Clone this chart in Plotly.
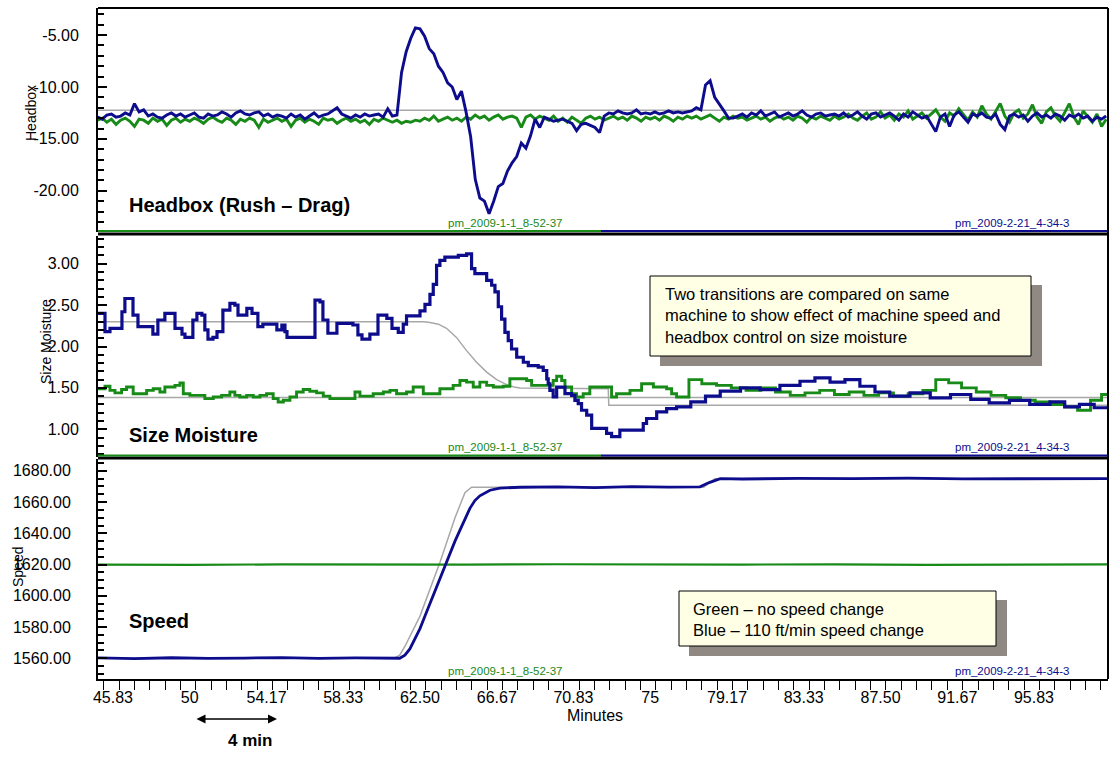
import numpy as np
import plotly.graph_objects as go

# ---------------- data ----------------
# Headbox (rush - drag), one sample every 15 s starting at 45.0 min
hb_start, hb_step = 45.0, 0.25
hb_blue = [
    -12.9, -13.1, -12.7, -12.6, -12.9, -12.8, -12.5, -12.7, -11.6, -12.4, -12.2, -12.8, -12.6, -12.9, -13.0, -12.7, -12.5, -12.8, -12.6, -12.9,
    -12.7, -12.5, -12.9, -13.0, -12.6, -12.8, -12.7, -12.4, -12.6, -12.9, -12.5, -12.3, -12.6, -12.7, -12.5, -12.4, -12.8, -12.6, -12.9, -12.7,
    -12.8, -13.0, -12.6, -12.9, -12.7, -13.1, -12.8, -12.5, -12.9, -12.7, -12.6, -12.3, -12.0, -12.6, -12.8, -13.0, -12.7, -12.9, -12.6, -12.8,
    -12.7, -12.6, -12.9, -12.1, -12.8, -12.7, -8.6, -6.6, -5.3, -4.3, -4.4, -5.1, -6.3, -6.8, -8.0, -8.6, -9.6, -10.0, -11.2, -10.4,
    -12.4, -14.8, -18.9, -20.7, -21.0, -22.2, -21.0, -19.6, -19.3, -18.1, -17.3, -16.7, -15.4, -15.9, -14.7, -13.1, -13.9, -12.9, -13.1, -13.3,
    -13.2, -13.1, -13.3, -13.5, -14.2, -13.6, -13.5, -13.7, -13.9, -14.4, -12.8, -12.5, -12.6, -12.3, -12.5, -12.6, -12.5, -12.2, -12.6, -12.5,
    -12.6, -12.4, -12.6, -12.5, -12.3, -12.5, -12.4, -12.5, -12.4, -12.3, -12.0, -12.2, -9.8, -9.4, -11.0, -11.6, -12.3, -13.0, -13.0, -12.8,
    -12.6, -12.9, -12.5, -12.7, -12.3, -12.8, -12.6, -12.4, -12.9, -12.7, -12.5, -12.8, -12.6, -12.3, -12.7, -12.9, -12.6, -12.5, -12.8, -12.7,
    -12.6, -12.8, -12.5, -12.9, -12.7, -12.4, -12.8, -13.1, -12.6, -12.5, -12.9, -12.7, -12.5, -12.8, -13.2, -12.6, -12.9, -12.4, -12.7, -13.0,
    -12.8, -13.5, -14.3, -12.9, -12.6, -13.8, -12.7, -12.4, -12.9, -13.4, -12.6, -12.8, -12.5, -12.9, -13.0, -12.6, -13.6, -14.1, -12.8, -12.6,
    -12.9, -12.7, -13.3, -12.8, -12.5, -12.9, -12.7, -13.0, -12.6, -12.8, -13.2, -12.7, -12.9, -12.6, -13.0, -12.8, -13.3, -12.9, -13.1, -12.8,
]
hb_green = [
    -13.2, -13.0, -13.4, -13.1, -13.6, -13.2, -13.0, -13.3, -13.8, -13.1, -13.2, -13.5, -13.0, -13.3, -13.1, -13.7, -13.2, -13.0, -13.4, -13.1,
    -13.3, -13.0, -13.2, -13.5, -13.1, -12.9, -13.2, -13.4, -13.0, -13.2, -13.6, -13.1, -13.3, -13.0, -13.2, -13.9, -13.1, -13.4, -13.2, -13.0,
    -13.3, -13.1, -13.8, -13.2, -13.0, -13.4, -13.1, -13.3, -13.6, -13.0, -13.2, -13.1, -13.5, -13.2, -13.0, -13.3, -13.1, -13.4, -13.2, -13.6,
    -13.1, -13.3, -13.0, -13.2, -13.4, -13.2, -13.5, -13.3, -13.4, -13.2, -13.3, -13.0, -13.2, -12.8, -13.3, -13.1, -12.9, -13.2, -13.0, -13.3,
    -12.9, -13.1, -12.7, -13.0, -12.8, -13.2, -12.9, -12.7, -13.1, -12.9, -12.8, -13.0, -13.9, -12.9, -12.7, -13.1, -12.8, -13.0, -13.2, -12.8,
    -13.3, -13.0, -13.4, -12.9, -13.2, -13.5, -13.0, -12.8, -13.1, -12.9, -13.2, -13.0, -12.8, -13.1, -12.9, -13.2, -12.8, -13.0, -13.3, -12.9,
    -13.1, -12.9, -13.2, -12.8, -13.0, -13.3, -12.9, -13.1, -12.8, -13.0, -12.8, -13.1, -12.9, -12.7, -13.0, -13.3, -12.9, -13.1, -12.8, -13.0,
    -12.9, -13.2, -13.0, -12.8, -13.1, -12.9, -13.3, -13.0, -12.8, -13.1, -12.9, -13.2, -12.8, -13.0, -13.4, -12.9, -13.1, -12.8, -13.0, -13.2,
    -12.8, -13.1, -12.9, -12.6, -13.0, -13.2, -12.8, -12.5, -13.1, -12.9, -12.4, -13.0, -12.7, -13.2, -12.6, -12.9, -12.3, -13.1, -12.8, -12.5,
    -13.0, -12.6, -12.2, -12.9, -13.3, -12.5, -12.8, -12.1, -12.7, -13.2, -12.4, -12.9, -11.8, -12.6, -13.1, -12.3, -11.6, -12.8, -13.4, -12.5,
    -12.2, -13.0, -12.6, -11.7, -12.9, -13.5, -12.4, -12.0, -12.8, -13.3, -12.5, -11.6, -12.9, -13.6, -12.3, -12.8, -13.4, -12.6, -13.8, -13.1,
]
hb_setpoint = -12.25

# Size moisture (stepped logger values)
sm_blue_t = [
    45.0, 45.4, 45.67, 46.32, 46.48, 46.92, 47.19, 48.0, 48.27, 48.65, 49.2, 49.58, 49.74, 50.17, 50.39, 50.66,
    50.82, 50.99, 51.26, 51.48, 51.8, 52.18, 52.45, 52.62, 53.1, 53.38, 53.7, 53.97, 54.73, 55.0, 55.17, 55.28,
    56.8, 57.07, 57.23, 57.5, 57.99, 58.86, 59.13, 59.35, 59.78, 60.22, 60.7, 60.98, 61.32, 61.59, 61.77, 62.5,
    62.77, 63.04, 63.22, 63.4, 63.58, 63.85, 64.58, 65.03, 65.3, 65.48, 66.12, 66.39, 66.57, 66.75, 66.93, 67.11,
    67.29, 67.47, 67.75, 68.11, 68.38, 68.92, 69.19, 69.38, 69.46, 69.55, 69.73, 69.92, 70.37, 70.73, 70.91, 71.09,
    71.27, 71.55, 71.82, 72.63, 72.9, 73.35, 74.62, 74.8, 75.35, 75.89, 76.43, 77.2, 78.0, 78.8, 79.9, 80.96,
    82.04, 83.13, 83.94, 84.76, 85.57, 86.38, 87.2, 88.0, 89.1, 90.2, 91.3, 92.4, 93.4, 94.5, 95.6, 96.7,
    97.5, 98.3, 99.1, 99.85,
]
sm_blue = [
    2.40, 2.18, 2.22, 2.42, 2.58, 2.38, 2.24, 2.15, 2.32, 2.40, 2.22, 2.15, 2.11, 2.32, 2.40, 2.38,
    2.20, 2.09, 2.11, 2.18, 2.44, 2.52, 2.50, 2.38, 2.46, 2.40, 2.24, 2.27, 2.20, 2.26, 2.18, 2.11,
    2.56, 2.54, 2.32, 2.16, 2.28, 2.26, 2.14, 2.09, 2.15, 2.38, 2.34, 2.22, 2.17, 2.27, 2.37, 2.43,
    2.51, 2.63, 2.75, 2.98, 3.04, 3.08, 3.10, 3.12, 2.94, 2.88, 2.80, 2.74, 2.66, 2.48, 2.33, 2.17,
    2.07, 1.97, 1.87, 1.81, 1.77, 1.75, 1.71, 1.61, 1.55, 1.47, 1.39, 1.51, 1.43, 1.41, 1.35, 1.31,
    1.23, 1.17, 1.01, 0.95, 0.91, 0.99, 1.07, 1.13, 1.21, 1.25, 1.27, 1.33, 1.40, 1.46, 1.50, 1.48,
    1.53, 1.58, 1.62, 1.57, 1.60, 1.52, 1.45, 1.40, 1.44, 1.38, 1.42, 1.36, 1.32, 1.35, 1.30, 1.33,
    1.27, 1.30, 1.26, 1.28,
]
sm_green_t = [
    45.0, 45.4, 45.67, 45.94, 46.3, 46.57, 46.93, 47.66, 48.02, 48.38,
    48.65, 49.2, 49.47, 49.65, 50.01, 50.82, 51.28, 51.73, 52.18, 52.45,
    52.72, 53.09, 53.45, 53.81, 54.17, 54.53, 54.8, 55.08, 55.44, 55.8,
    56.16, 56.52, 56.89, 57.25, 57.61, 58.97, 59.24, 59.96, 60.51, 60.87,
    61.23, 61.77, 62.13, 62.68, 63.58, 64.3, 64.67, 65.03, 65.39, 65.75,
    66.12, 66.48, 67.02, 67.38, 68.29, 68.56, 69.19, 69.73, 69.92, 70.19,
    70.37, 70.73, 71.0, 71.36, 71.72, 72.9, 73.17, 73.9, 74.53, 75.17,
    75.89, 76.16, 76.43, 77.1, 77.8, 78.6, 79.4, 80.2, 81.0, 81.8,
    82.6, 83.4, 84.2, 85.0, 85.8, 86.6, 87.4, 88.2, 89.0, 89.8,
    90.5, 91.2, 91.9, 92.7, 93.5, 94.3, 95.1, 95.9, 96.7, 97.5,
    98.2, 98.9, 99.5, 99.85,
]
sm_green = [
    1.49, 1.52, 1.47, 1.44, 1.48, 1.51, 1.43, 1.47, 1.49, 1.45,
    1.51, 1.53, 1.56, 1.43, 1.41, 1.37, 1.39, 1.41, 1.45, 1.41,
    1.39, 1.41, 1.39, 1.41, 1.43, 1.37, 1.33, 1.35, 1.39, 1.45,
    1.48, 1.46, 1.44, 1.40, 1.37, 1.45, 1.40, 1.43, 1.45, 1.47,
    1.43, 1.45, 1.51, 1.43, 1.49, 1.53, 1.59, 1.57, 1.51, 1.57,
    1.53, 1.51, 1.52, 1.61, 1.59, 1.53, 1.53, 1.59, 1.64, 1.59,
    1.51, 1.43, 1.39, 1.43, 1.51, 1.39, 1.43, 1.47, 1.55, 1.51,
    1.49, 1.43, 1.39, 1.60, 1.55, 1.53, 1.50, 1.47, 1.50, 1.45,
    1.41, 1.44, 1.47, 1.42, 1.45, 1.41, 1.44, 1.40, 1.43, 1.47,
    1.60, 1.56, 1.50, 1.45, 1.41, 1.38, 1.35, 1.33, 1.30, 1.27,
    1.23, 1.35, 1.42, 1.44,
]
sm_target_green = 1.385
sm_target_blue_t = [45.0, 62.7, 63.04, 63.5, 63.94, 64.48, 65.03, 65.57, 66.12, 66.66, 67.2, 67.6, 67.93, 72.72, 72.75, 99.85]
sm_target_blue = [2.30, 2.30, 2.29, 2.27, 2.22, 2.11, 1.95, 1.81, 1.69, 1.60, 1.54, 1.51, 1.50, 1.49, 1.29, 1.29]

# Machine speed
sp_green_t = [45.0, 50.0, 55.0, 60.0, 65.0, 70.0, 75.0, 80.0, 85.0, 90.0, 95.0, 99.85]
sp_green = [1620.0, 1619.8, 1620.1, 1619.9, 1620.0, 1620.2, 1619.9, 1620.0, 1620.1, 1619.8, 1620.0, 1620.1]
sp_blue_t = [
    45.0, 47.0, 49.0, 51.0, 53.0, 55.0, 57.0, 59.0, 61.4, 61.68, 61.95, 62.23, 62.5, 62.77, 63.04,
    63.31, 63.58, 63.85, 64.12, 64.4, 64.67, 64.94, 65.21, 65.48, 65.75, 66.3, 66.84, 67.93, 70.0,
    72.0, 74.0, 76.0, 77.7, 78.2, 78.8, 80.0, 83.0, 86.0, 89.0, 92.0, 95.0, 98.0, 99.85,
]
sp_blue = [
    1560.2, 1559.8, 1560.3, 1559.9, 1560.1, 1560.4, 1559.9, 1560.2, 1560.0, 1562, 1566, 1573, 1579, 1587, 1595,
    1603, 1611, 1619, 1627, 1635, 1642, 1649, 1656, 1661, 1664, 1667.6, 1669, 1669.5, 1669.8,
    1669.3, 1669.9, 1669.6, 1669.8, 1672.5, 1675, 1674.8, 1675.2, 1675.0, 1675.3, 1674.9, 1675.1, 1675.2, 1675.0,
]
sp_target_t = [45.0, 61.1, 61.4, 61.7, 62.5, 63.6, 64.4, 64.94, 65.3, 77.9, 78.5, 99.85]
sp_target = [1560, 1560, 1562, 1568, 1587, 1622, 1650, 1666, 1669.5, 1669.5, 1675, 1675]

x_tick_vals = [45.83, 50, 54.17, 58.33, 62.5, 66.67, 70.83, 75, 79.17, 83.33, 87.5, 91.67, 95.83]
x_tick_text = ["45.83", "50", "54.17", "58.33", "62.50", "66.67", "70.83", "75", "79.17", "83.33", "87.50", "91.67", "95.83"]
hb_ticks = [-5, -10, -15, -20]
sm_ticks = [1.0, 1.5, 2.0, 2.5, 3.0]
sp_ticks = [1560, 1580, 1600, 1620, 1640, 1660, 1680]

run_green = "pm_2009-1-1_8-52-37"
run_blue = "pm_2009-2-21_4-34-3"

# ---------------- style ----------------
BLUE = "#0c0c8c"
GREEN = "#178a17"
GRAY = "#a8a8a8"
W, H = 1111, 759
L, R, T, B = 98, 3, 8, 80
TICK_FONT = "Liberation Sans, Arial, sans-serif"
TEXT_FONT = "Liberation Sans, Arial, sans-serif"


def fx(p):
    """pixel column -> paper x"""
    return (p - L) / (W - L - R)


def fy(p):
    """pixel row -> paper y"""
    return (H - B - p) / (H - T - B)


hb_t = np.round(hb_start + hb_step * np.arange(len(hb_blue)), 3)

fig = go.Figure()

# headbox panel
fig.add_trace(go.Scatter(x=[hb_t[0], hb_t[-1]], y=[hb_setpoint, hb_setpoint], mode="lines",
                         line=dict(color=GRAY, width=1.5), yaxis="y"))
fig.add_trace(go.Scatter(x=hb_t, y=hb_green, mode="lines", line=dict(color=GREEN, width=2.9), yaxis="y"))
fig.add_trace(go.Scatter(x=hb_t, y=hb_blue, mode="lines", line=dict(color=BLUE, width=2.9), yaxis="y"))

# size moisture panel
fig.add_trace(go.Scatter(x=[45.0, 99.85], y=[sm_target_green, sm_target_green], mode="lines",
                         line=dict(color=GRAY, width=1.5), yaxis="y2"))
fig.add_trace(go.Scatter(x=sm_target_blue_t, y=sm_target_blue, mode="lines", line=dict(color=GRAY, width=1.5),
                         yaxis="y2"))
fig.add_trace(go.Scatter(x=sm_green_t, y=sm_green, mode="lines", line=dict(color=GREEN, width=2.9, shape="hv"),
                         yaxis="y2"))
fig.add_trace(go.Scatter(x=sm_blue_t, y=sm_blue, mode="lines", line=dict(color=BLUE, width=3.2, shape="hv"),
                         yaxis="y2"))

# speed panel
fig.add_trace(go.Scatter(x=sp_target_t, y=sp_target, mode="lines", line=dict(color=GRAY, width=1.5), yaxis="y3"))
fig.add_trace(go.Scatter(x=sp_green_t, y=sp_green, mode="lines", line=dict(color=GREEN, width=2.2), yaxis="y3"))
fig.add_trace(go.Scatter(x=sp_blue_t, y=sp_blue, mode="lines", line=dict(color=BLUE, width=2.8), yaxis="y3"))

p1 = [fy(232), 1.0]
p2 = [fy(457), fy(236)]
p3 = [0.0, fy(459)]

yax_common = dict(showgrid=False, zeroline=False, showline=True, linecolor="black", linewidth=2,
                  ticks="inside", ticklen=9, tickwidth=1.5, tickcolor="black",
                  tickfont=dict(family=TICK_FONT, size=16, color="black"), anchor="x")

fig.update_layout(
    width=W, height=H,
    margin=dict(l=L, r=R, t=T, b=B),
    paper_bgcolor="white", plot_bgcolor="white",
    showlegend=False,
    xaxis=dict(range=[45.02, 99.85], showgrid=False, zeroline=False, showline=True, linecolor="black",
               linewidth=2, anchor="y3", tickmode="array", tickvals=x_tick_vals, ticktext=x_tick_text,
               ticks="", tickfont=dict(family=TICK_FONT, size=16, color="black"),
               minor=dict(ticks="outside", tick0=45.34, dtick=0.8325, ticklen=9, tickwidth=1.2,
                          tickcolor="black"),
               ticklabelstandoff=3),
    yaxis=dict(domain=p1, range=[-23.97, -2.39], tickmode="array", tickvals=hb_ticks,
               ticktext=[f"{v:.2f}" for v in hb_ticks],
               minor=dict(ticks="inside", dtick=1, tick0=0, ticklen=6, tickcolor="black"),
               ticklabelstandoff=14, **yax_common),
    yaxis2=dict(domain=p2, range=[0.665, 3.335], tickmode="array", tickvals=sm_ticks,
                ticktext=[f"{v:.2f}" for v in sm_ticks],
                minor=dict(ticks="inside", dtick=0.1, tick0=0, ticklen=6, tickcolor="black"),
                ticklabelstandoff=14, **yax_common),
    yaxis3=dict(domain=p3, range=[1546.7, 1687.6], tickmode="array", tickvals=sp_ticks,
                ticktext=[f"{v:.2f}" for v in sp_ticks],
                minor=dict(ticks="inside", dtick=5, tick0=0, ticklen=6, tickcolor="black"),
                ticklabelstandoff=22, **yax_common),
)

shapes = []
# outer frame: top and right edges
shapes.append(dict(type="line", xref="paper", yref="paper", x0=0, x1=1, y0=1, y1=1,
                   line=dict(color="black", width=2)))
shapes.append(dict(type="line", xref="paper", yref="paper", x0=1, x1=1, y0=0, y1=1,
                   line=dict(color="black", width=2)))
# panel separators with the run-colour strip
split = fx(601)
for strip_y, bar_y in [(231, 234), (455.5, 458)]:
    shapes.append(dict(type="line", xref="paper", yref="paper", x0=0, x1=1, y0=fy(bar_y), y1=fy(bar_y),
                       line=dict(color="black", width=3)))
    shapes.append(dict(type="line", xref="paper", yref="paper", x0=0, x1=split, y0=fy(strip_y), y1=fy(strip_y),
                       line=dict(color=GREEN, width=2)))
    shapes.append(dict(type="line", xref="paper", yref="paper", x0=split, x1=1, y0=fy(strip_y), y1=fy(strip_y),
                       line=dict(color=BLUE, width=2)))
# note boxes with drop shadows
for (bx0, by0, bx1, by1) in [(650, 276, 1031, 356), (679, 591, 996, 646)]:
    shapes.append(dict(type="rect", xref="paper", yref="paper", x0=fx(bx0 + 10), x1=fx(bx1 + 11),
                       y0=fy(by1 + 10), y1=fy(by0 + 9), fillcolor="#8f8883", line=dict(width=0), layer="above"))
    shapes.append(dict(type="rect", xref="paper", yref="paper", x0=fx(bx0), x1=fx(bx1),
                       y0=fy(by1), y1=fy(by0), fillcolor="#ffffe6", line=dict(color="black", width=1),
                       layer="above"))
fig.update_layout(shapes=shapes)

ann = []
# panel titles
for text, y in [("Headbox (Rush – Drag)", 205), ("Size Moisture", 435), ("Speed", 621)]:
    ann.append(dict(text=f"<b>{text}</b>", x=fx(127), y=fy(y), xref="paper", yref="paper", xanchor="left",
                    yanchor="middle", showarrow=False, font=dict(family=TEXT_FONT, size=20, color="black")))
# run identifiers
for y in [223, 447, 671]:
    ann.append(dict(text=run_green, x=fx(505), y=fy(y), xref="paper", yref="paper", xanchor="center",
                    yanchor="middle", showarrow=False, font=dict(family=TICK_FONT, size=11.5, color=GREEN)))
    ann.append(dict(text=run_blue, x=fx(1012), y=fy(y), xref="paper", yref="paper", xanchor="center",
                    yanchor="middle", showarrow=False, font=dict(family=TICK_FONT, size=11.5, color=BLUE)))
# axis titles
for text, x, y in [("Headbox", 31, 113), ("Size Moisture", 46, 342), ("Speed", 18, 567)]:
    ann.append(dict(text=text, x=fx(x), y=fy(y), xref="paper", yref="paper", xanchor="center", yanchor="middle",
                    textangle=-90, showarrow=False, font=dict(family=TICK_FONT, size=14, color="black")))
ann.append(dict(text="Minutes", x=fx(595), y=fy(715), xref="paper", yref="paper", xanchor="center",
                yanchor="middle", showarrow=False, font=dict(family=TICK_FONT, size=16, color="black")))
# notes
ann.append(dict(text="Two transitions are compared on same<br>machine to show effect of machine speed and"
                     "<br>headbox control on size moisture",
                x=fx(663), y=fy(315), xref="paper", yref="paper", xanchor="left", yanchor="middle", align="left",
                showarrow=False, font=dict(family=TEXT_FONT, size=16.5, color="black")))
ann.append(dict(text="Green – no speed change<br>Blue – 110 ft/min speed change",
                x=fx(691), y=fy(619), xref="paper", yref="paper", xanchor="left", yanchor="middle", align="left",
                showarrow=False, font=dict(family=TEXT_FONT, size=16.5, color="black")))
# 4-minute scale arrow (tail offset given in pixels)
ann.append(dict(text="", x=fx(277), y=fy(719), ax=-82, ay=0, xref="paper", yref="paper",
                showarrow=True, arrowhead=2, startarrowhead=2, arrowside="end+start",
                arrowsize=1.2, startarrowsize=1.2, arrowwidth=1.5, arrowcolor="black"))
ann.append(dict(text="<b>4 min</b>", x=fx(250), y=fy(740), xref="paper", yref="paper", xanchor="center",
                yanchor="middle", showarrow=False, font=dict(family=TEXT_FONT, size=17, color="black")))
fig.update_layout(annotations=ann)

fig.write_html("out.html")
